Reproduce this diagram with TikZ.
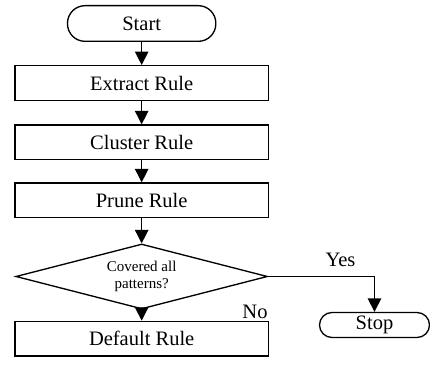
\documentclass[tikz,border=0pt]{standalone}
\usepackage{fontspec}
\setmainfont{Liberation Serif}
\usepackage{tikz}
\usetikzlibrary{positioning,shapes.geometric,arrows.meta}

\begin{document}
\begin{tikzpicture}[>={Triangle[width=8pt,length=8pt]},line width=0.8pt,node distance=14pt,
	proc node/.style={rectangle,draw,minimum width=152pt,minimum height=20.8pt,inner sep=1pt,font=\fontsize{12.3}{14}\selectfont},
	term node/.style={rectangle,draw,rounded corners=10.5pt,minimum width=89pt,minimum height=21.4pt,inner sep=1pt,font=\fontsize{12.3}{14}\selectfont},
	dec node/.style={diamond,draw,aspect=3.83,minimum width=151pt,minimum height=39pt,inner sep=1pt,align=center,font=\fontsize{9}{10}\selectfont},
	lbl/.style={font=\fontsize{12.3}{14}\selectfont}]
	\useasboundingbox (0,0) rectangle (258pt,-222pt);
	\node[term node] (start) at (85pt,-14.1pt) {Start};
	\node[proc node] (extract) [below=13.8pt of start] {Extract Rule};
	\node[proc node] (cluster) [below=of extract] {Cluster Rule};
	\node[proc node] (prune) [below=13.2pt of cluster] {Prune Rule};
	\node[dec node] (covered) [below=15pt of prune] {Covered all\\patterns?};
	\node[proc node] (default) [below=6.6pt of covered] {Default Rule};
	\node[term node,rounded corners=7.5pt,minimum width=66pt,minimum height=15pt] (stop) at (224.7pt,-195pt) {Stop};
	\node[lbl] (no) at (153pt,-187.2pt) {No};
	\draw[->] (start) -- (extract);
	\draw[->] (extract) -- (cluster);
	\draw[->] (cluster) -- (prune);
	\draw[->] (prune) -- (covered);
	\draw[->] (covered) -- (default);
	\draw[->] (covered.east) -| node[lbl,above=2pt,pos=0.34] {Yes} (stop.north);
\end{tikzpicture}
\end{document}
